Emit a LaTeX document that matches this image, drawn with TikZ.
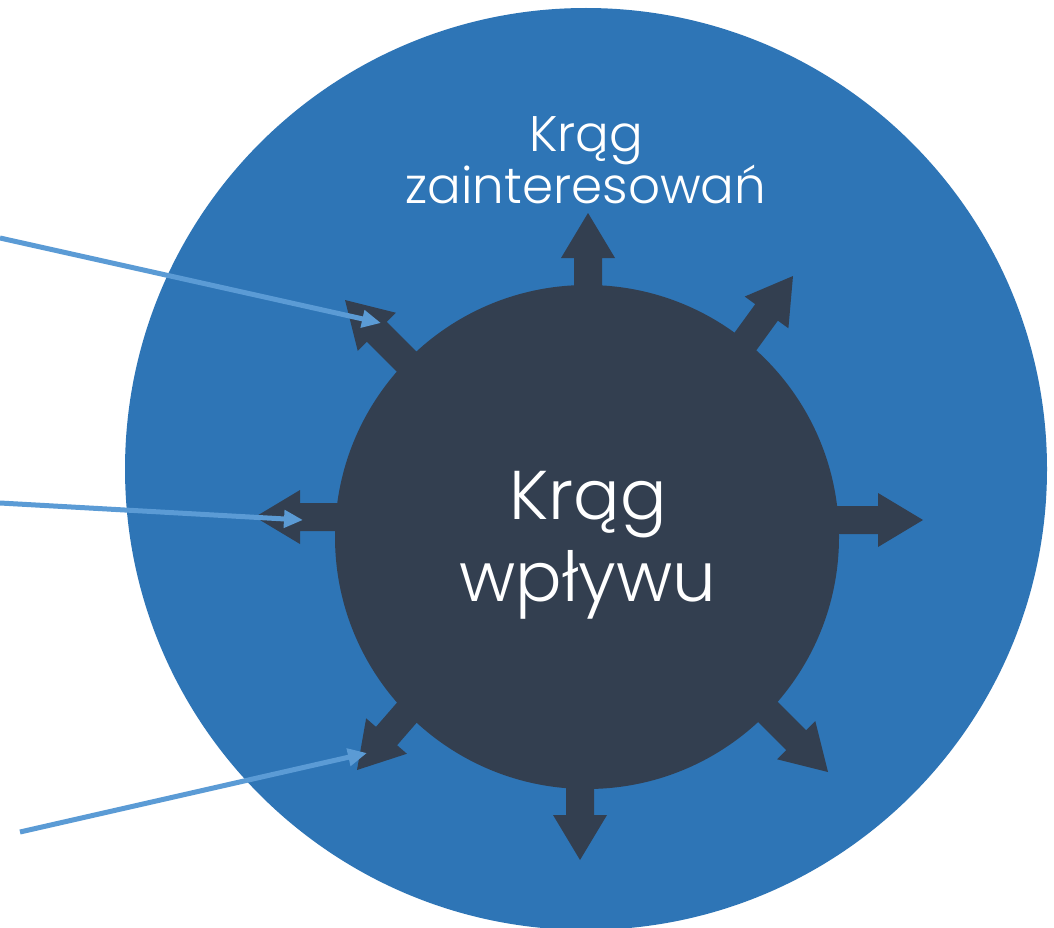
\documentclass[tikz,border=0pt]{standalone}
\usepackage{fontspec}
\setmainfont{Poppins}[UprightFont=* Light]
\usetikzlibrary{arrows.meta}
\definecolor{outerblue}{RGB}{46,117,182}
\definecolor{darkslate}{RGB}{51,63,80}
\definecolor{lightblue}{RGB}{91,155,213}
\tikzset{
  ring/.style={circle, inner sep=0pt, draw=none},
  blockarrow/.style={fill=darkslate},
  pointer/.style={draw=lightblue, line width=5pt, -{Triangle[length=19pt,width=17pt]}},
  label/.style={text=white, align=center, inner sep=0pt}
}
\newcommand{\blockarr}[3]{%
  \begin{scope}[shift={(#1,#2)}, rotate=#3]
    \fill[blockarrow] (0pt,0pt) -- (-45pt,27pt) -- (-45pt,14pt) -- (-170pt,14pt)
      -- (-170pt,-14pt) -- (-45pt,-14pt) -- (-45pt,-27pt) -- cycle;
  \end{scope}}
\begin{document}
\begin{tikzpicture}[x=1pt,y=-1pt]
\useasboundingbox (0,0) rectangle (1054,928);
\clip (0,0) rectangle (1054,928);
\fill[white] (0,0) rectangle (1054,928);
\node[ring, fill=outerblue, minimum size=922pt] (outer) at (586,469) {};
\blockarr{588}{213}{90}
\blockarr{580}{860}{-90}
\blockarr{923}{520}{0}
\blockarr{255}{517}{180}
\blockarr{345}{300}{135}
\blockarr{793}{276}{54}
\blockarr{357}{770}{229}
\blockarr{828}{772}{-45}
\node[ring, fill=darkslate, minimum size=504pt] (inner) at (587,537) {};
\node[label, font=\fontsize{69}{82}\selectfont] (innertext) at (588,545) {Krąg\\wpływu};
\node[label, font=\fontsize{50}{52}\selectfont] (outertext) at (586,160) {Krąg\\zainteresowań};
\coordinate (s1) at (0,238);
\coordinate (s2) at (0,503);
\coordinate (s3) at (20,832);
\coordinate (t1) at (381,323);
\coordinate (t2) at (303,520);
\coordinate (t3) at (367,753);
\draw[pointer] (s1) -- (t1);
\draw[pointer] (s2) -- (t2);
\draw[pointer] (s3) -- (t3);
\end{tikzpicture}
\end{document}
